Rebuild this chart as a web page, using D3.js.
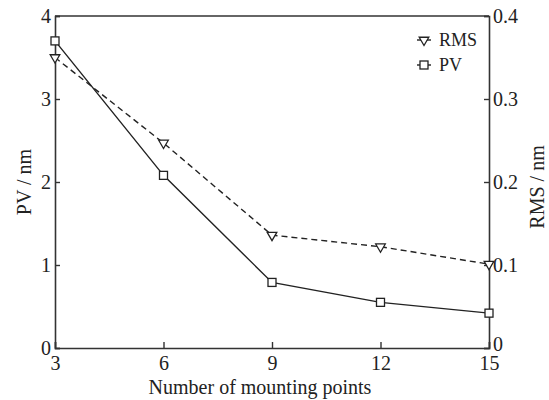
<!DOCTYPE html>
<html>
<meta charset="utf-8">
<head>
  <script src="https://d3js.org/d3.v7.min.js"></script>
  <style>
    body { margin: 0; background: #fff; }
    text { font-family: "Liberation Serif", "Times New Roman", serif; fill: #222; }
  </style>
</head>
<body>
<div id="chart"></div>
<script>
// data
var points = [3, 6, 9, 12, 15];
var pv = [3.7, 2.08, 0.79, 0.55, 0.42];
var rms = [0.35, 0.247, 0.136, 0.122, 0.101];
var pvTicks = [0, 1, 2, 3, 4];
var rmsTicks = [0, 0.1, 0.2, 0.3, 0.4];

var margin = {top: 16, right: 60, bottom: 52, left: 55},
    width = 549 - margin.left - margin.right,
    height = 400 - margin.top - margin.bottom;

var svg = d3.select("#chart").append("svg")
    .attr("width", 549).attr("height", 400)
  .append("g")
    .attr("transform", "translate(" + margin.left + "," + margin.top + ")");

var x = d3.scaleLinear().domain([3, 15]).range([0, width]);
var yL = d3.scaleLinear().domain([0, 4]).range([height, 0]);
var yR = d3.scaleLinear().domain([0, 0.4]).range([height, 0]);

// frame: top border
svg.append("line").attr("x1", 0).attr("x2", width).attr("y1", 0).attr("y2", 0)
  .attr("stroke", "#333").attr("stroke-width", 1.6);

// axes, ticks pointing inward
var xAxis = svg.append("g").attr("transform", "translate(0," + height + ")")
  .call(d3.axisBottom(x).tickValues(points).tickSize(-6).tickPadding(10).tickFormat(d3.format("d")));
var lAxis = svg.append("g")
  .call(d3.axisLeft(yL).tickValues(pvTicks).tickSize(-5).tickPadding(4).tickFormat(d3.format("d")));
var rAxis = svg.append("g").attr("transform", "translate(" + width + ",0)")
  .call(d3.axisRight(yR).tickValues(rmsTicks).tickSize(-5).tickPadding(4).tickFormat(function(d) { return d === 0 ? "0" : d3.format(".1f")(d); }));

[xAxis, lAxis, rAxis].forEach(function(a) {
  a.select(".domain").attr("stroke", "#333").attr("stroke-width", 1.6);
  a.selectAll(".tick line").attr("stroke", "#333").attr("stroke-width", 1.4);
  a.selectAll(".tick text").style("font-size", "20px").attr("fill", "#222");
});
xAxis.selectAll(".tick text").attr("dy", "0.6em");
// right-hand "0" sits just above the "15"
rAxis.selectAll(".tick text").filter(function(d) { return d === 0; }).attr("dy", "0.1em");

// lines
var pvLine = d3.line().x(function(d, i) { return x(points[i]); }).y(function(d) { return yL(d); });
var rmsLine = d3.line().x(function(d, i) { return x(points[i]); }).y(function(d) { return yR(d); });

svg.append("path").datum(rms).attr("d", rmsLine)
  .attr("fill", "none").attr("stroke", "#222").attr("stroke-width", 1.4).attr("stroke-dasharray", "6,4");
svg.append("path").datum(pv).attr("d", pvLine)
  .attr("fill", "none").attr("stroke", "#222").attr("stroke-width", 1.4);

var tri = d3.symbol().type(d3.symbolTriangle).size(40);

function triangle(g, cx, cy) {
  g.append("path").attr("d", tri())
    .attr("transform", "translate(" + cx + "," + cy + ") rotate(180)")
    .attr("fill", "#fff").attr("stroke", "#222").attr("stroke-width", 1.3);
}
function square(g, cx, cy) {
  g.append("rect").attr("x", cx - 4).attr("y", cy - 4).attr("width", 8).attr("height", 8)
    .attr("fill", "#fff").attr("stroke", "#222").attr("stroke-width", 1.3);
}

rms.forEach(function(d, i) { triangle(svg, x(points[i]), yR(d)); });
pv.forEach(function(d, i) { square(svg, x(points[i]), yL(d)); });

// legend
var legend = svg.append("g").attr("transform", "translate(" + (width - 72) + ",0)");
legend.append("line").attr("x1", 0).attr("x2", 14).attr("y1", 24).attr("y2", 24)
  .attr("stroke", "#222").attr("stroke-width", 1.4);
triangle(legend, 7, 24);
legend.append("text").attr("x", 22).attr("y", 24).attr("dy", "0.35em").style("font-size", "18px").text("RMS");
legend.append("line").attr("x1", 0).attr("x2", 14).attr("y1", 49).attr("y2", 49)
  .attr("stroke", "#222").attr("stroke-width", 1.4);
square(legend, 7, 49);
legend.append("text").attr("x", 22).attr("y", 49).attr("dy", "0.35em").style("font-size", "18px").text("PV");

// axis titles
svg.append("text").attr("x", width / 2 - 12).attr("y", height + 46)
  .attr("text-anchor", "middle").style("font-size", "20px").text("Number of mounting points");
svg.append("text").attr("transform", "translate(-24," + (height / 2) + ") rotate(-90)")
  .attr("text-anchor", "middle").style("font-size", "20px").text("PV / nm");
svg.append("text").attr("transform", "translate(" + (width + 55) + "," + (height / 2 + 5) + ") rotate(-90)")
  .attr("text-anchor", "middle").style("font-size", "20px").text("RMS / nm");
</script>
</body>
</html>
